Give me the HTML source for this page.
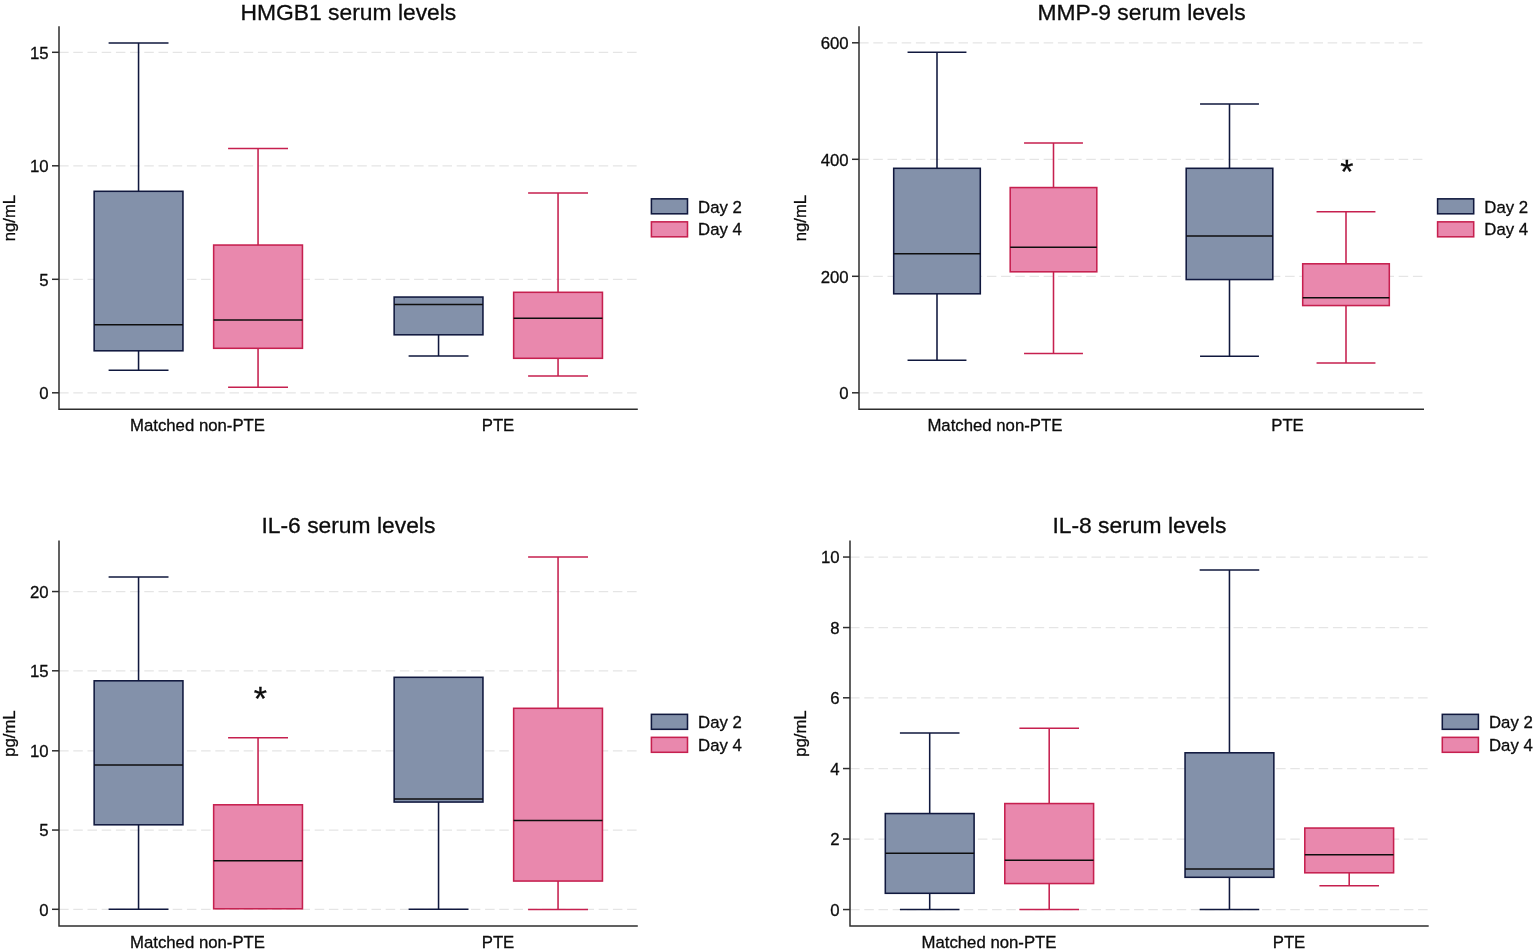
<!DOCTYPE html>
<html lang="en"><head><meta charset="utf-8"><title>Serum levels</title>
<style>
html,body{margin:0;padding:0;background:#fff;}
body{width:1535px;height:951px;overflow:hidden;}
svg{display:block;}
svg text{font-family:"Liberation Sans",Arial,Helvetica,sans-serif;fill:#0c0c0c;stroke:#0c0c0c;stroke-width:0.3px;}
</style></head><body>
<svg width="1535" height="951" viewBox="0 0 1535 951">
<rect width="1535" height="951" fill="#fff"/>
<path d="M59.1 52.3H637.8" stroke="#e5e5e5" stroke-width="1.3" stroke-dasharray="9.5 4.7" fill="none"/>
<path d="M59.1 165.8H637.8" stroke="#e5e5e5" stroke-width="1.3" stroke-dasharray="9.5 4.7" fill="none"/>
<path d="M59.1 279.3H637.8" stroke="#e5e5e5" stroke-width="1.3" stroke-dasharray="9.5 4.7" fill="none"/>
<path d="M59.1 392.8H637.8" stroke="#e5e5e5" stroke-width="1.3" stroke-dasharray="9.5 4.7" fill="none"/>
<path d="M138.55 191.3V43.05M108.6 43.05H168.5" stroke="#10183e" stroke-width="1.55" fill="none"/>
<path d="M138.55 350.8V370.3M108.6 370.3H168.5" stroke="#10183e" stroke-width="1.55" fill="none"/>
<rect x="94.15" y="191.3" width="88.8" height="159.5" fill="#8391aa" stroke="#10183e" stroke-width="1.55"/>
<path d="M94.15 324.8H182.95" stroke="#0e0e0e" stroke-width="1.55" fill="none"/>
<path d="M258.05 245.05V148.55M228.1 148.55H288" stroke="#c6204f" stroke-width="1.55" fill="none"/>
<path d="M258.05 348.3V387.3M228.1 387.3H288" stroke="#c6204f" stroke-width="1.55" fill="none"/>
<rect x="213.65" y="245.05" width="88.8" height="103.25" fill="#e988ad" stroke="#c6204f" stroke-width="1.55"/>
<path d="M213.65 320.05H302.45" stroke="#0e0e0e" stroke-width="1.55" fill="none"/>
<path d="M438.55 334.8V356.05M408.6 356.05H468.5" stroke="#10183e" stroke-width="1.55" fill="none"/>
<rect x="394.15" y="297.05" width="88.8" height="37.75" fill="#8391aa" stroke="#10183e" stroke-width="1.55"/>
<path d="M394.15 304.55H482.95" stroke="#0e0e0e" stroke-width="1.55" fill="none"/>
<path d="M558.05 292.3V193.05M528.1 193.05H588" stroke="#c6204f" stroke-width="1.55" fill="none"/>
<path d="M558.05 358.3V376.05M528.1 376.05H588" stroke="#c6204f" stroke-width="1.55" fill="none"/>
<rect x="513.65" y="292.3" width="88.8" height="66" fill="#e988ad" stroke="#c6204f" stroke-width="1.55"/>
<path d="M513.65 318.3H602.45" stroke="#0e0e0e" stroke-width="1.55" fill="none"/>
<path d="M59 26.3V409.2H637.8" stroke="#2e2e2e" stroke-width="1.5" fill="none"/>
<path d="M52 52.3H59" stroke="#2e2e2e" stroke-width="1.5" fill="none"/>
<text x="48.6" y="58.7" text-anchor="end" font-size="16.75">15</text>
<path d="M52 165.8H59" stroke="#2e2e2e" stroke-width="1.5" fill="none"/>
<text x="48.6" y="172.2" text-anchor="end" font-size="16.75">10</text>
<path d="M52 279.3H59" stroke="#2e2e2e" stroke-width="1.5" fill="none"/>
<text x="48.6" y="285.7" text-anchor="end" font-size="16.75">5</text>
<path d="M52 392.8H59" stroke="#2e2e2e" stroke-width="1.5" fill="none"/>
<text x="48.6" y="399.2" text-anchor="end" font-size="16.75">0</text>
<text x="348.4" y="19.5" text-anchor="middle" font-size="22.85">HMGB1 serum levels</text>
<text transform="translate(15.4 218.05) rotate(-90)" text-anchor="middle" font-size="16.7">ng/mL</text>
<text x="197.5" y="431.2" text-anchor="middle" font-size="16.75">Matched non-PTE</text>
<text x="498" y="431.2" text-anchor="middle" font-size="16.75">PTE</text>
<rect x="651.4" y="198.85" width="36.1" height="14.95" fill="#8391aa" stroke="#10183e" stroke-width="1.55"/>
<rect x="651.4" y="221.85" width="36.1" height="14.95" fill="#e988ad" stroke="#c6204f" stroke-width="1.55"/>
<text x="698.1" y="212.5" font-size="16.75">Day 2</text>
<text x="698.1" y="235.25" font-size="16.75">Day 4</text>
<path d="M859.1 42.8H1424" stroke="#e5e5e5" stroke-width="1.3" stroke-dasharray="9.5 4.7" fill="none"/>
<path d="M859.1 159.3H1424" stroke="#e5e5e5" stroke-width="1.3" stroke-dasharray="9.5 4.7" fill="none"/>
<path d="M859.1 276.3H1424" stroke="#e5e5e5" stroke-width="1.3" stroke-dasharray="9.5 4.7" fill="none"/>
<path d="M859.1 392.8H1424" stroke="#e5e5e5" stroke-width="1.3" stroke-dasharray="9.5 4.7" fill="none"/>
<path d="M937 168.3V52.3M907.55 52.3H966.45" stroke="#10183e" stroke-width="1.55" fill="none"/>
<path d="M937 293.8V360.3M907.55 360.3H966.45" stroke="#10183e" stroke-width="1.55" fill="none"/>
<rect x="893.7" y="168.3" width="86.6" height="125.5" fill="#8391aa" stroke="#10183e" stroke-width="1.55"/>
<path d="M893.7 253.8H980.3" stroke="#0e0e0e" stroke-width="1.55" fill="none"/>
<path d="M1053.5 187.55V143.05M1024.05 143.05H1082.95" stroke="#c6204f" stroke-width="1.55" fill="none"/>
<path d="M1053.5 271.8V353.55M1024.05 353.55H1082.95" stroke="#c6204f" stroke-width="1.55" fill="none"/>
<rect x="1010.2" y="187.55" width="86.6" height="84.25" fill="#e988ad" stroke="#c6204f" stroke-width="1.55"/>
<path d="M1010.2 247.3H1096.8" stroke="#0e0e0e" stroke-width="1.55" fill="none"/>
<path d="M1229.5 168.3V104.05M1200.05 104.05H1258.95" stroke="#10183e" stroke-width="1.55" fill="none"/>
<path d="M1229.5 279.55V356.3M1200.05 356.3H1258.95" stroke="#10183e" stroke-width="1.55" fill="none"/>
<rect x="1186.2" y="168.3" width="86.6" height="111.25" fill="#8391aa" stroke="#10183e" stroke-width="1.55"/>
<path d="M1186.2 236.05H1272.8" stroke="#0e0e0e" stroke-width="1.55" fill="none"/>
<path d="M1346 263.8V211.8M1316.55 211.8H1375.45" stroke="#c6204f" stroke-width="1.55" fill="none"/>
<path d="M1346 305.55V363.05M1316.55 363.05H1375.45" stroke="#c6204f" stroke-width="1.55" fill="none"/>
<rect x="1302.7" y="263.8" width="86.6" height="41.75" fill="#e988ad" stroke="#c6204f" stroke-width="1.55"/>
<path d="M1302.7 297.8H1389.3" stroke="#0e0e0e" stroke-width="1.55" fill="none"/>
<path d="M859 26.3V409.2H1424" stroke="#2e2e2e" stroke-width="1.5" fill="none"/>
<path d="M852 42.8H859" stroke="#2e2e2e" stroke-width="1.5" fill="none"/>
<text x="848.6" y="49.2" text-anchor="end" font-size="16.75">600</text>
<path d="M852 159.3H859" stroke="#2e2e2e" stroke-width="1.5" fill="none"/>
<text x="848.6" y="165.7" text-anchor="end" font-size="16.75">400</text>
<path d="M852 276.3H859" stroke="#2e2e2e" stroke-width="1.5" fill="none"/>
<text x="848.6" y="282.7" text-anchor="end" font-size="16.75">200</text>
<path d="M852 392.8H859" stroke="#2e2e2e" stroke-width="1.5" fill="none"/>
<text x="848.6" y="399.2" text-anchor="end" font-size="16.75">0</text>
<text x="1141.5" y="19.5" text-anchor="middle" font-size="22.85">MMP-9 serum levels</text>
<text transform="translate(806.2 218.05) rotate(-90)" text-anchor="middle" font-size="16.7">ng/mL</text>
<text x="994.9" y="431.2" text-anchor="middle" font-size="16.75">Matched non-PTE</text>
<text x="1287.5" y="431.2" text-anchor="middle" font-size="16.75">PTE</text>
<rect x="1437.6" y="198.85" width="36.1" height="14.95" fill="#8391aa" stroke="#10183e" stroke-width="1.55"/>
<rect x="1437.6" y="221.85" width="36.1" height="14.95" fill="#e988ad" stroke="#c6204f" stroke-width="1.55"/>
<text x="1484.3" y="212.5" font-size="16.75">Day 2</text>
<text x="1484.3" y="235.25" font-size="16.75">Day 4</text>
<text x="1346.8" y="182.8" text-anchor="middle" font-size="34" stroke-width="0.1">*</text>
<path d="M59.1 591.55H637.8" stroke="#e5e5e5" stroke-width="1.3" stroke-dasharray="9.5 4.7" fill="none"/>
<path d="M59.1 670.8H637.8" stroke="#e5e5e5" stroke-width="1.3" stroke-dasharray="9.5 4.7" fill="none"/>
<path d="M59.1 750.8H637.8" stroke="#e5e5e5" stroke-width="1.3" stroke-dasharray="9.5 4.7" fill="none"/>
<path d="M59.1 830.05H637.8" stroke="#e5e5e5" stroke-width="1.3" stroke-dasharray="9.5 4.7" fill="none"/>
<path d="M59.1 909.3H637.8" stroke="#e5e5e5" stroke-width="1.3" stroke-dasharray="9.5 4.7" fill="none"/>
<path d="M138.55 680.8V577.05M108.6 577.05H168.5" stroke="#10183e" stroke-width="1.55" fill="none"/>
<path d="M138.55 824.8V909.3M108.6 909.3H168.5" stroke="#10183e" stroke-width="1.55" fill="none"/>
<rect x="94.15" y="680.8" width="88.8" height="144" fill="#8391aa" stroke="#10183e" stroke-width="1.55"/>
<path d="M94.15 765.05H182.95" stroke="#0e0e0e" stroke-width="1.55" fill="none"/>
<path d="M258.05 804.8V737.8M228.1 737.8H288" stroke="#c6204f" stroke-width="1.55" fill="none"/>
<rect x="213.65" y="804.8" width="88.8" height="104" fill="#e988ad" stroke="#c6204f" stroke-width="1.55"/>
<path d="M213.65 860.8H302.45" stroke="#0e0e0e" stroke-width="1.55" fill="none"/>
<path d="M438.55 802.05V909.3M408.6 909.3H468.5" stroke="#10183e" stroke-width="1.55" fill="none"/>
<rect x="394.15" y="677.3" width="88.8" height="124.75" fill="#8391aa" stroke="#10183e" stroke-width="1.55"/>
<path d="M394.15 799.05H482.95" stroke="#0e0e0e" stroke-width="1.55" fill="none"/>
<path d="M558.05 708.3V557.05M528.1 557.05H588" stroke="#c6204f" stroke-width="1.55" fill="none"/>
<path d="M558.05 881.05V909.55M528.1 909.55H588" stroke="#c6204f" stroke-width="1.55" fill="none"/>
<rect x="513.65" y="708.3" width="88.8" height="172.75" fill="#e988ad" stroke="#c6204f" stroke-width="1.55"/>
<path d="M513.65 820.55H602.45" stroke="#0e0e0e" stroke-width="1.55" fill="none"/>
<path d="M59 540.5V926H637.8" stroke="#2e2e2e" stroke-width="1.5" fill="none"/>
<path d="M52 591.55H59" stroke="#2e2e2e" stroke-width="1.5" fill="none"/>
<text x="48.6" y="597.95" text-anchor="end" font-size="16.75">20</text>
<path d="M52 670.8H59" stroke="#2e2e2e" stroke-width="1.5" fill="none"/>
<text x="48.6" y="677.2" text-anchor="end" font-size="16.75">15</text>
<path d="M52 750.8H59" stroke="#2e2e2e" stroke-width="1.5" fill="none"/>
<text x="48.6" y="757.2" text-anchor="end" font-size="16.75">10</text>
<path d="M52 830.05H59" stroke="#2e2e2e" stroke-width="1.5" fill="none"/>
<text x="48.6" y="836.45" text-anchor="end" font-size="16.75">5</text>
<path d="M52 909.3H59" stroke="#2e2e2e" stroke-width="1.5" fill="none"/>
<text x="48.6" y="915.7" text-anchor="end" font-size="16.75">0</text>
<text x="348.4" y="532.8" text-anchor="middle" font-size="22.85">IL-6 serum levels</text>
<text transform="translate(15.4 733.55) rotate(-90)" text-anchor="middle" font-size="16.7">pg/mL</text>
<text x="197.5" y="948" text-anchor="middle" font-size="16.75">Matched non-PTE</text>
<text x="498" y="948" text-anchor="middle" font-size="16.75">PTE</text>
<rect x="651.4" y="714.35" width="36.1" height="14.95" fill="#8391aa" stroke="#10183e" stroke-width="1.55"/>
<rect x="651.4" y="737.35" width="36.1" height="14.95" fill="#e988ad" stroke="#c6204f" stroke-width="1.55"/>
<text x="698.1" y="728" font-size="16.75">Day 2</text>
<text x="698.1" y="750.75" font-size="16.75">Day 4</text>
<text x="260.4" y="710" text-anchor="middle" font-size="34" stroke-width="0.1">*</text>
<path d="M850.1 557.05H1428.7" stroke="#e5e5e5" stroke-width="1.3" stroke-dasharray="9.5 4.7" fill="none"/>
<path d="M850.1 627.55H1428.7" stroke="#e5e5e5" stroke-width="1.3" stroke-dasharray="9.5 4.7" fill="none"/>
<path d="M850.1 697.8H1428.7" stroke="#e5e5e5" stroke-width="1.3" stroke-dasharray="9.5 4.7" fill="none"/>
<path d="M850.1 768.55H1428.7" stroke="#e5e5e5" stroke-width="1.3" stroke-dasharray="9.5 4.7" fill="none"/>
<path d="M850.1 839.05H1428.7" stroke="#e5e5e5" stroke-width="1.3" stroke-dasharray="9.5 4.7" fill="none"/>
<path d="M850.1 909.55H1428.7" stroke="#e5e5e5" stroke-width="1.3" stroke-dasharray="9.5 4.7" fill="none"/>
<path d="M929.7 813.55V733.05M899.9 733.05H959.5" stroke="#10183e" stroke-width="1.55" fill="none"/>
<path d="M929.7 893.3V909.55M899.9 909.55H959.5" stroke="#10183e" stroke-width="1.55" fill="none"/>
<rect x="885.3" y="813.55" width="88.8" height="79.75" fill="#8391aa" stroke="#10183e" stroke-width="1.55"/>
<path d="M885.3 853.3H974.1" stroke="#0e0e0e" stroke-width="1.55" fill="none"/>
<path d="M1049.2 803.55V728.3M1019.4 728.3H1079" stroke="#c6204f" stroke-width="1.55" fill="none"/>
<path d="M1049.2 883.55V909.55M1019.4 909.55H1079" stroke="#c6204f" stroke-width="1.55" fill="none"/>
<rect x="1004.8" y="803.55" width="88.8" height="80" fill="#e988ad" stroke="#c6204f" stroke-width="1.55"/>
<path d="M1004.8 860.3H1093.6" stroke="#0e0e0e" stroke-width="1.55" fill="none"/>
<path d="M1229.45 752.8V570.05M1199.65 570.05H1259.25" stroke="#10183e" stroke-width="1.55" fill="none"/>
<path d="M1229.45 877.3V909.55M1199.65 909.55H1259.25" stroke="#10183e" stroke-width="1.55" fill="none"/>
<rect x="1185.05" y="752.8" width="88.8" height="124.5" fill="#8391aa" stroke="#10183e" stroke-width="1.55"/>
<path d="M1185.05 869.05H1273.85" stroke="#0e0e0e" stroke-width="1.55" fill="none"/>
<path d="M1349.2 872.8V885.8M1319.4 885.8H1379" stroke="#c6204f" stroke-width="1.55" fill="none"/>
<rect x="1304.8" y="828.05" width="88.8" height="44.75" fill="#e988ad" stroke="#c6204f" stroke-width="1.55"/>
<path d="M1304.8 854.8H1393.6" stroke="#0e0e0e" stroke-width="1.55" fill="none"/>
<path d="M850 540.5V926H1428.7" stroke="#2e2e2e" stroke-width="1.5" fill="none"/>
<path d="M843 557.05H850" stroke="#2e2e2e" stroke-width="1.5" fill="none"/>
<text x="839.6" y="563.45" text-anchor="end" font-size="16.75">10</text>
<path d="M843 627.55H850" stroke="#2e2e2e" stroke-width="1.5" fill="none"/>
<text x="839.6" y="633.95" text-anchor="end" font-size="16.75">8</text>
<path d="M843 697.8H850" stroke="#2e2e2e" stroke-width="1.5" fill="none"/>
<text x="839.6" y="704.2" text-anchor="end" font-size="16.75">6</text>
<path d="M843 768.55H850" stroke="#2e2e2e" stroke-width="1.5" fill="none"/>
<text x="839.6" y="774.95" text-anchor="end" font-size="16.75">4</text>
<path d="M843 839.05H850" stroke="#2e2e2e" stroke-width="1.5" fill="none"/>
<text x="839.6" y="845.45" text-anchor="end" font-size="16.75">2</text>
<path d="M843 909.55H850" stroke="#2e2e2e" stroke-width="1.5" fill="none"/>
<text x="839.6" y="915.95" text-anchor="end" font-size="16.75">0</text>
<text x="1139.35" y="532.8" text-anchor="middle" font-size="22.85">IL-8 serum levels</text>
<text transform="translate(806.2 733.55) rotate(-90)" text-anchor="middle" font-size="16.7">pg/mL</text>
<text x="989" y="948" text-anchor="middle" font-size="16.75">Matched non-PTE</text>
<text x="1289" y="948" text-anchor="middle" font-size="16.75">PTE</text>
<rect x="1442.3" y="714.35" width="36.1" height="14.95" fill="#8391aa" stroke="#10183e" stroke-width="1.55"/>
<rect x="1442.3" y="737.35" width="36.1" height="14.95" fill="#e988ad" stroke="#c6204f" stroke-width="1.55"/>
<text x="1489" y="728" font-size="16.75">Day 2</text>
<text x="1489" y="750.75" font-size="16.75">Day 4</text>
</svg>
</body></html>
